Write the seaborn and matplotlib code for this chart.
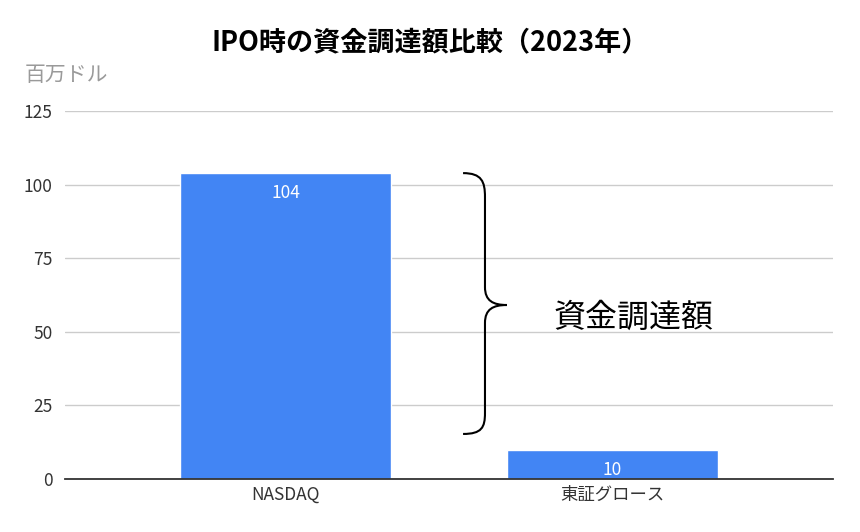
import matplotlib
matplotlib.use("Agg")
import matplotlib.pyplot as plt
import seaborn as sns
import pandas as pd
from matplotlib.path import Path
from matplotlib.patches import PathPatch

categories = ["NASDAQ", "東証グロース"]
values = [104, 10]
yticks = [0, 25, 50, 75, 100, 125]
title = "IPO時の資金調達額比較（2023年）"
unit_label = "百万ドル"
brace_label = "資金調達額"

sns.set_theme(style="white")
plt.rcParams['font.family'] = ['Noto Sans CJK JP', 'DejaVu Sans']

df = pd.DataFrame({"cat": categories, "val": values})

fig = plt.figure(figsize=(8.6, 5.32), dpi=100)
ax = fig.add_axes([65/860, 1-479/532, 768/860, 368/532])

sns.barplot(data=df, x="cat", y="val", color="#4285F4", width=0.645,
            saturation=1, ax=ax, zorder=3)

ax.set_xlim(-0.674, 1.674)
ax.set_ylim(0, 125)
ax.set_yticks(yticks)
ax.yaxis.grid(True, color="#cccccc", linewidth=1.0, zorder=0)
ax.set_axisbelow(True)
for s in ["top", "right", "left"]:
    ax.spines[s].set_visible(False)
ax.spines["bottom"].set_color("#333333")
ax.spines["bottom"].set_linewidth(1.3)
ax.spines["bottom"].set_zorder(4)
ax.tick_params(axis="both", length=0, labelsize=12.5, colors="#333333")
ax.tick_params(axis="y", pad=9)
ax.tick_params(axis="x", pad=5)
ax.set_xlabel("")
ax.set_ylabel("")

for cont in ax.containers:
    ax.bar_label(cont, labels=[str(v) for v in values], padding=-21,
                 color="white", fontsize=12.5)

fig.text(0.5, 1-42/532, title, ha="center", va="center",
         fontsize=19.5, fontweight="bold", color="#000000")
fig.text(25/860, 1-75/532, unit_label, ha="left", va="center",
         fontsize=15, color="#9a9a9a")

# curly brace annotation
verts = [
    (0.543, 103.9),
    (0.60, 103.9), (0.61, 101.0), (0.61, 95.8),
    (0.61, 65.2),
    (0.61, 60.5), (0.635, 59.1), (0.677, 59.1),
    (0.635, 59.1), (0.61, 57.7), (0.61, 53.0),
    (0.61, 22.4),
    (0.61, 17.5), (0.60, 15.3), (0.543, 15.3),
]
codes = [Path.MOVETO,
         Path.CURVE4, Path.CURVE4, Path.CURVE4,
         Path.LINETO,
         Path.CURVE4, Path.CURVE4, Path.CURVE4,
         Path.CURVE4, Path.CURVE4, Path.CURVE4,
         Path.LINETO,
         Path.CURVE4, Path.CURVE4, Path.CURVE4]
ax.add_patch(PathPatch(Path(verts, codes), facecolor="none",
                       edgecolor="black", linewidth=1.5, zorder=5,
                       clip_on=False))
ax.text(1.063, 54.7, brace_label, ha="center", va="center",
        fontsize=23, color="black")

fig.savefig("out.png", dpi=100, facecolor="white")
